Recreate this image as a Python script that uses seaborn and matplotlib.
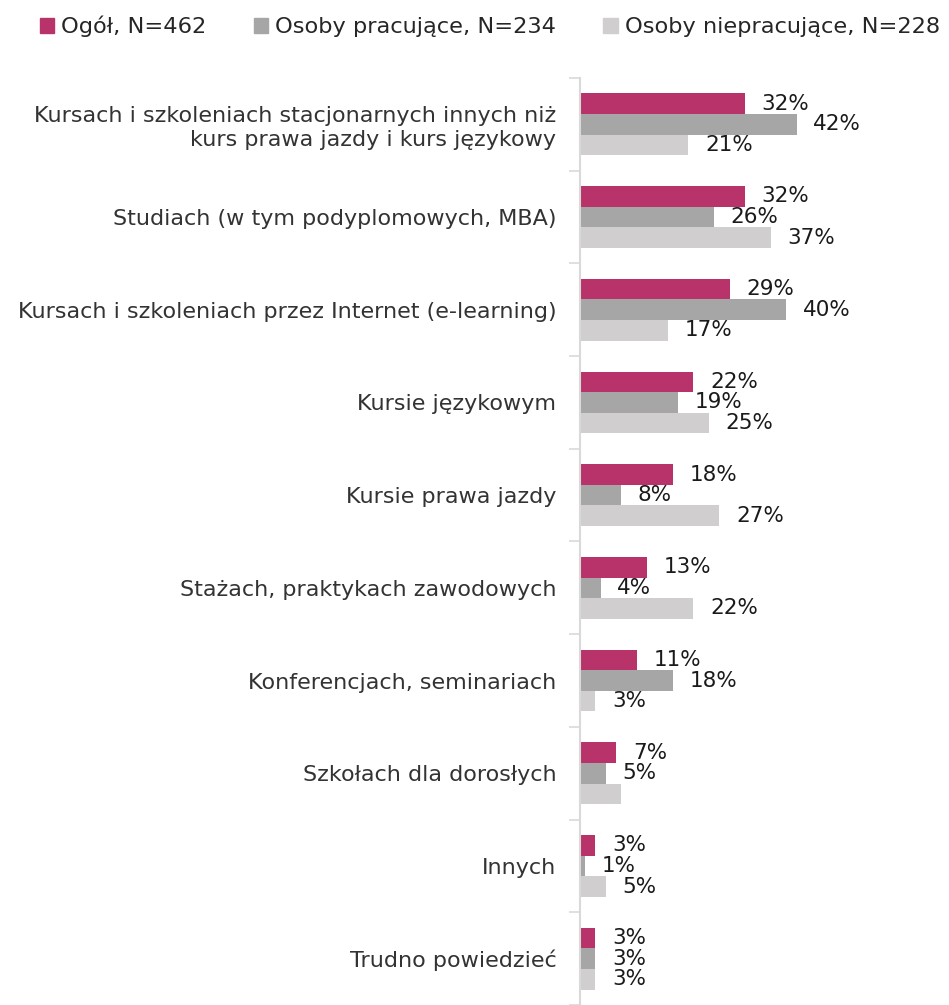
import pandas as pd
import matplotlib.pyplot as plt
import seaborn as sns
from matplotlib.ticker import FixedLocator

categories = [
    "Kursach i szkoleniach stacjonarnych innych niż\nkurs prawa jazdy i kurs językowy",
    "Studiach (w tym podyplomowych, MBA)",
    "Kursach i szkoleniach przez Internet (e-learning)",
    "Kursie językowym",
    "Kursie prawa jazdy",
    "Stażach, praktykach zawodowych",
    "Konferencjach, seminariach",
    "Szkołach dla dorosłych",
    "Innych",
    "Trudno powiedzieć",
]
series = ["Ogół, N=462", "Osoby pracujące, N=234", "Osoby niepracujące, N=228"]
ogol = [32, 32, 29, 22, 18, 13, 11, 7, 3, 3]
pracujace = [42, 26, 40, 19, 8, 4, 18, 5, 1, 3]
niepracujace = [21, 37, 17, 25, 27, 22, 3, 8, 5, 3]
# the reference shows no label on this one bar
hidden_labels = {(2, 7)}
colors = ["#B8336A", "#A6A6A6", "#D0CECF"]

rows = []
for s, vals in zip(series, [ogol, pracujace, niepracujace]):
    for c, v in zip(categories, vals):
        rows.append({"kategoria": c, "seria": s, "wartosc": v})
df = pd.DataFrame(rows)

sns.set_theme(style="white")
plt.rcParams["font.family"] = ["DejaVu Sans"]

fig = plt.figure(figsize=(9.49, 10.05), dpi=100)
ax = fig.add_axes([580 / 949, 0.0, 361 / 949, 927 / 1005])

sns.barplot(data=df, y="kategoria", x="wartosc", hue="seria", palette=colors,
            orient="h", width=0.667, ax=ax, legend=False, saturation=1,
            linewidth=0)

for i, cont in enumerate(ax.containers):
    labels = []
    for j, bar in enumerate(cont):
        labels.append("" if (i, j) in hidden_labels else f"{bar.get_width():.0f}%")
    ax.bar_label(cont, labels=labels, padding=12, fontsize=15.5, color="#1a1a1a")

ax.set_xlim(0, 70)
ax.set_ylim(len(categories) - 0.5, -0.5)
ax.set_xlabel("")
ax.set_ylabel("")
ax.set_xticks([])
ax.tick_params(axis="y", which="major", length=0, pad=17, labelsize=16,
               labelcolor="#333333")
ax.yaxis.set_minor_locator(FixedLocator([k - 0.5 for k in range(len(categories) + 1)]))
ax.tick_params(axis="y", which="minor", length=8, color="#D9D9D9", width=1.2, left=True)
for lbl in ax.get_yticklabels():
    lbl.set_horizontalalignment("right")
    lbl.set_multialignment("right")

for side in ["top", "right", "bottom"]:
    ax.spines[side].set_visible(False)
ax.spines["left"].set_color("#D9D9D9")
ax.spines["left"].set_linewidth(1.5)

handles = [plt.Rectangle((0, 0), 1, 1, color=c) for c in colors]
fig.legend(handles, series, loc="upper center", bbox_to_anchor=(0.516, 1.0), ncol=3,
           frameon=False, fontsize=16.2, handlelength=0.65, handleheight=0.65,
           handletextpad=0.3, columnspacing=2.1, borderaxespad=0.3)

fig.savefig("out.png", dpi=100)
